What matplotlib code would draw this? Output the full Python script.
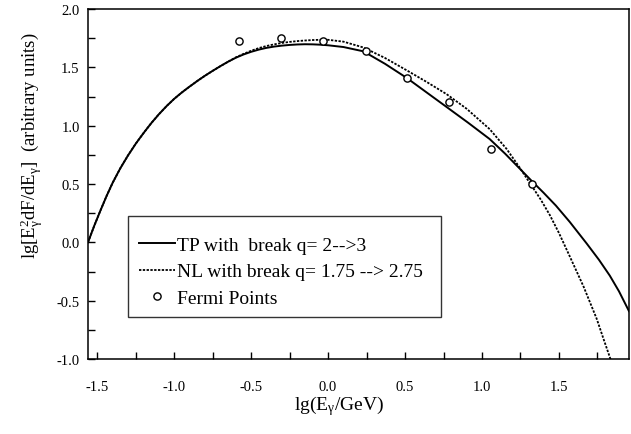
import matplotlib
matplotlib.use("Agg")
import matplotlib.pyplot as plt
from matplotlib.lines import Line2D
from matplotlib.ticker import MultipleLocator, FormatStrFormatter

# ---- data ----
tp_x = [-1.56, -1.52, -1.48, -1.44, -1.40, -1.35, -1.30, -1.25, -1.20, -1.15, -1.10,
        -1.05, -1.00, -0.95, -0.90, -0.85, -0.80, -0.75, -0.70, -0.65, -0.60, -0.55,
        -0.50, -0.45, -0.40, -0.35, -0.30, -0.25, -0.20, -0.15, -0.10, -0.05, 0.00,
        0.10, 0.23, 0.37, 0.51, 0.64, 0.77, 0.91, 1.05, 1.15, 1.25, 1.32, 1.40, 1.48,
        1.57, 1.68, 1.76, 1.83, 1.89, 1.955]
tp_y = [0.00, 0.14, 0.27, 0.395, 0.51, 0.635, 0.745, 0.845, 0.935, 1.02, 1.097,
        1.167, 1.23, 1.285, 1.335, 1.383, 1.428, 1.47, 1.51, 1.548, 1.582, 1.61,
        1.633, 1.652, 1.667, 1.678, 1.686, 1.692, 1.696, 1.698, 1.697, 1.694, 1.689,
        1.674, 1.637, 1.53, 1.41, 1.285, 1.16, 1.025, 0.885, 0.76, 0.625, 0.53, 0.425, 0.315,
        0.175, -0.01, -0.15, -0.285, -0.42, -0.59]

nl_x = [-1.56, -1.52, -1.48, -1.44, -1.40, -1.35, -1.30, -1.25, -1.20, -1.15, -1.10,
        -1.05, -1.00, -0.95, -0.90, -0.85, -0.80, -0.75, -0.70, -0.65, -0.60, -0.55,
        -0.50, -0.45, -0.40, -0.35, -0.30, -0.25, -0.20, -0.15, -0.10, -0.05, 0.00,
        0.10, 0.23, 0.37, 0.51, 0.64, 0.77, 0.90, 1.05, 1.16, 1.245, 1.33, 1.38, 1.44,
        1.50, 1.57, 1.66, 1.745, 1.79, 1.845]
nl_y = [0.00, 0.14, 0.27, 0.395, 0.51, 0.635, 0.745, 0.845, 0.935, 1.02, 1.097,
        1.167, 1.23, 1.285, 1.335, 1.383, 1.428, 1.47, 1.51, 1.548, 1.585, 1.615,
        1.642, 1.665, 1.683, 1.697, 1.709, 1.718, 1.725, 1.730, 1.734, 1.736, 1.736,
        1.72, 1.67, 1.58, 1.475, 1.375, 1.27, 1.145, 0.97, 0.80, 0.64, 0.47, 0.37, 0.235,
        0.08, -0.12, -0.38, -0.655, -0.83, -1.04]

fermi_x = [-0.578, -0.303, -0.032, 0.243, 0.511, 0.784, 1.058, 1.325]
fermi_y = [1.728, 1.754, 1.723, 1.640, 1.406, 1.200, 0.798, 0.503]

labels = ["TP with  break q= 2-->3", "NL with break q= 1.75 --> 2.75", "Fermi Points"]

plt.rcParams['font.family'] = ['Liberation Serif', 'DejaVu Serif']
plt.rcParams['mathtext.fontset'] = 'custom'
plt.rcParams['mathtext.rm'] = 'Liberation Serif'
plt.rcParams['mathtext.it'] = 'Liberation Serif:italic'

fig = plt.figure(figsize=(6.31, 4.35), dpi=100)
ax = fig.add_axes([88/631, 1-360/435, 541/631, 350/435])

dash = (0, (1.3, 0.8))
ax.plot(tp_x, tp_y, color='black', lw=1.4, solid_joinstyle='round')
ax.plot(nl_x, nl_y, color='black', lw=1.3, linestyle=dash)
ax.plot(fermi_x, fermi_y, linestyle='none', marker='o', ms=5.2,
        mfc='white', mec='black', mew=1.0)

ax.set_xlim(-1.56, 1.955)
ax.set_ylim(-1.0, 2.0)
ax.xaxis.set_major_locator(MultipleLocator(0.5))
ax.xaxis.set_minor_locator(MultipleLocator(0.25))
ax.yaxis.set_major_locator(MultipleLocator(0.5))
ax.yaxis.set_minor_locator(MultipleLocator(0.25))
ax.xaxis.set_major_formatter(FormatStrFormatter('%.1f'))
ax.yaxis.set_major_formatter(FormatStrFormatter('%.1f'))
ax.tick_params(which='both', direction='in', length=5, width=1, top=False, right=False)
ax.tick_params(axis='x', which='major', pad=15, labelsize=10.5)
ax.tick_params(axis='y', which='major', pad=6, labelsize=10.5)
for s in ax.spines.values():
    s.set_linewidth(1.1)

ax.set_xlabel(r'lg(E$\mathregular{_\gamma}$/GeV)', fontsize=14)
ax.xaxis.set_label_coords(0.464, -0.098)
ax.set_ylabel(r'lg[E$\mathregular{_\gamma^2}$dF/dE$\mathregular{_\gamma}$]  (arbitrary units)', fontsize=13.5)
ax.yaxis.set_label_coords(-0.078, 0.611)

handles = [Line2D([], [], color='black', lw=1.4),
           Line2D([], [], color='black', lw=1.3, linestyle=dash),
           Line2D([], [], linestyle='none', marker='o', ms=5.2, mfc='white', mec='black', mew=1.0)]
leg = ax.legend(handles, labels, loc='upper left',
                bbox_to_anchor=(40/541, (360-217)/350, 313/541, 0), mode='expand',
                fontsize=14, frameon=True, fancybox=False, framealpha=1,
                edgecolor='#333333', handlelength=1.85, handletextpad=0.1,
                labelspacing=0.45, borderpad=0.55, borderaxespad=0,
                title=' ', title_fontsize=1)
leg.get_frame().set_linewidth(1.0)

fig.savefig('out.png', dpi=100)
